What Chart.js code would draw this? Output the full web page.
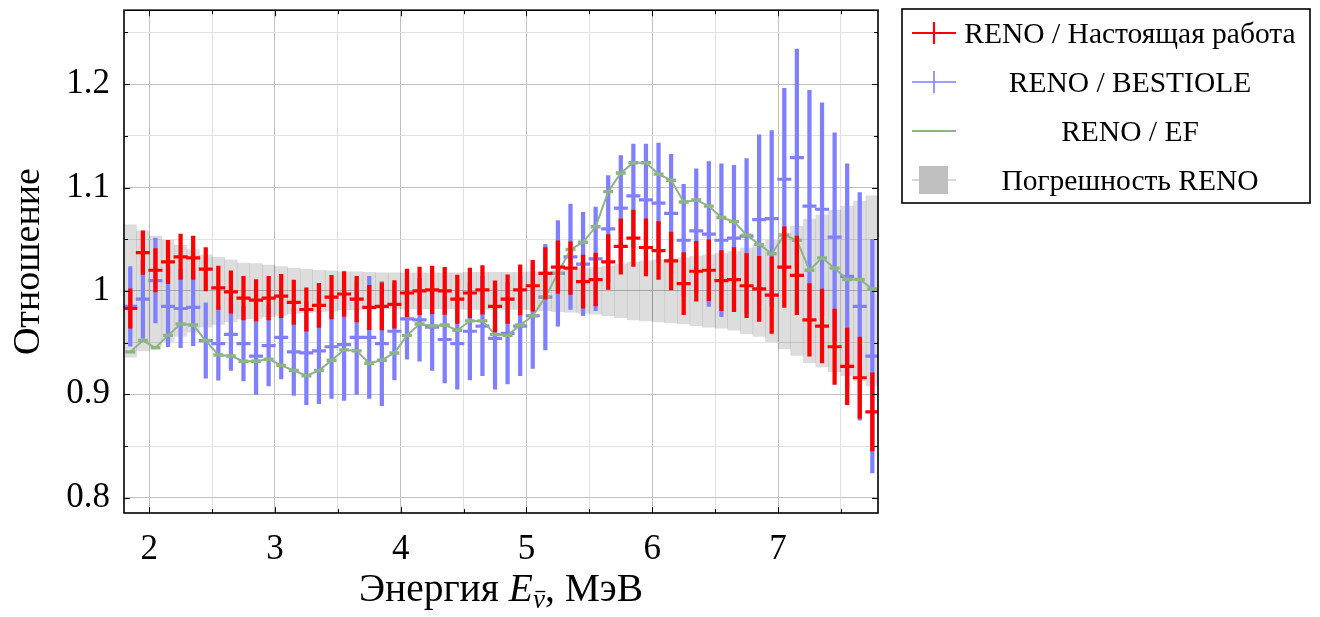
<!DOCTYPE html>
<html><head><meta charset="utf-8">
<script src="https://cdn.jsdelivr.net/npm/chart.js@4.4.1/dist/chart.umd.min.js"></script>
<style>html,body{margin:0;padding:0;background:#fff;}canvas{display:block;}</style>
</head><body>
<canvas id="c" width="1320" height="617"></canvas>
<script>
// ---------- data ----------
const energy = [1.85,1.95,2.05,2.15,2.25,2.35,2.45,2.55,2.65,2.75,2.85,2.95,3.05,3.15,3.25,3.35,3.45,3.55,3.65,3.75,3.85,3.95,4.05,4.15,4.25,4.35,4.45,4.55,4.65,4.75,4.85,4.95,5.05,5.15,5.25,5.35,5.45,5.55,5.65,5.75,5.85,5.95,6.05,6.15,6.25,6.35,6.45,6.55,6.65,6.75,6.85,6.95,7.05,7.15,7.25,7.35,7.45,7.55,7.65,7.75];

const renoRatio = [0.983,1.037,1.020,1.028,1.033,1.032,1.021,1.003,0.999,0.993,
  0.991,0.993,0.995,0.989,0.982,0.986,0.994,0.997,0.992,0.984,
  0.985,0.987,0.998,1.000,1.001,1.000,0.992,0.998,1.001,0.985,
  0.992,1.001,1.005,1.017,1.023,1.022,1.009,1.011,1.028,1.043,
  1.051,1.042,1.039,1.029,1.007,1.019,1.020,1.010,1.011,1.005,
  1.002,0.996,1.023,1.015,0.972,0.966,0.946,0.927,0.916,0.883];
const renoErr = [0.019,0.021,0.021,0.021,0.022,0.021,0.021,0.021,0.0205,0.021,
  0.020,0.021,0.021,0.0214,0.021,0.0214,0.021,0.0216,0.022,0.0214,
  0.0227,0.023,0.023,0.023,0.023,0.0227,0.0234,0.024,0.0234,0.0247,
  0.0235,0.0243,0.0245,0.025,0.0255,0.0255,0.0256,0.0256,0.0265,0.0268,
  0.0273,0.0276,0.028,0.028,0.030,0.029,0.0295,0.029,0.031,0.031,
  0.0315,0.037,0.039,0.038,0.035,0.0357,0.0365,0.037,0.0394,0.0378];

const bestioleRatio = [0.985,0.992,1.010,0.985,0.983,0.984,0.952,0.949,0.958,0.949,
  0.937,0.947,0.955,0.941,0.940,0.942,0.946,0.948,0.955,0.955,
  0.949,0.961,0.973,0.972,0.965,0.953,0.949,0.961,0.966,0.954,
  0.959,0.966,0.976,0.994,1.017,1.033,1.026,1.031,1.060,1.080,
  1.092,1.088,1.085,1.075,1.049,1.058,1.055,1.049,1.051,1.053,
  1.069,1.070,1.108,1.129,1.082,1.079,1.052,1.014,0.985,0.937];
const bestioleErr = [0.0385,0.038,0.041,0.039,0.038,0.037,0.0365,0.0354,0.035,0.036,
  0.037,0.039,0.040,0.042,0.050,0.051,0.050,0.054,0.055,0.059,
  0.060,0.047,0.039,0.040,0.042,0.042,0.044,0.047,0.048,0.049,
  0.049,0.048,0.051,0.051,0.051,0.051,0.050,0.050,0.0515,0.051,
  0.050,0.054,0.058,0.057,0.054,0.060,0.070,0.074,0.0705,0.075,
  0.082,0.085,0.088,0.105,0.112,0.103,0.101,0.109,0.110,0.113];

const efRatio = [0.941,0.952,0.945,0.957,0.968,0.967,0.952,0.938,0.937,0.932,
  0.932,0.934,0.928,0.923,0.918,0.923,0.933,0.943,0.942,0.930,
  0.933,0.940,0.957,0.968,0.966,0.967,0.962,0.971,0.971,0.958,
  0.957,0.967,0.976,0.994,1.017,1.040,1.047,1.062,1.096,1.114,
  1.124,1.124,1.113,1.107,1.086,1.088,1.082,1.071,1.067,1.054,
  1.045,1.036,1.054,1.049,1.020,1.032,1.022,1.011,1.011,1.002];

const renoUncert = [0.064,0.058,0.053,0.049,0.044,0.040,0.035,0.0325,0.030,0.027,
  0.0265,0.025,0.0235,0.022,0.021,0.020,0.0195,0.0185,0.0185,0.018,
  0.0175,0.0175,0.0175,0.0175,0.0175,0.0175,0.0175,0.018,0.018,0.018,
  0.018,0.018,0.0185,0.019,0.020,0.0205,0.0215,0.0225,0.024,0.026,
  0.028,0.029,0.030,0.031,0.032,0.0336,0.035,0.036,0.038,0.0415,
  0.044,0.049,0.056,0.0625,0.0695,0.0735,0.078,0.082,0.087,0.092];

const seriesNames = ['RENO / Настоящая работа','RENO / BESTIOLE','RENO / EF','Погрешность RENO'];
const xMajorTicks = [2,3,4,5,6,7];
const xMinorTicks = [2.5,3.5,4.5,5.5,6.5,7.5];
const yMajorTicks = [0.8,0.9,1,1.1,1.2];
const yTickLabels = ['0.8','0.9','1','1.1','1.2'];
const yMinorTicks = [0.85,0.95,1.05,1.15,1.25];
const yTitle = 'Отношение';
const xTitleParts = ['Энергия ', 'E', 'ν', ', МэВ'];

// ---------- style ----------
const RED = '#ff0000', BLUE = 'rgb(128,128,255)', GREEN = 'rgb(140,180,132)';
const BAND = 'rgba(0,0,0,0.135)';
const FONT = '"Liberation Serif", "DejaVu Serif", serif';
const MAJOR_GRID = 'rgb(192,192,192)', MINOR_GRID = 'rgb(226,226,226)';

const isIn = (arr, v) => arr.some(a => Math.abs(a - v) < 1e-6);
const pts = (vals) => energy.map((x, i) => ({x, y: vals[i]}));
const bars = (vals, errs) => energy.map((x, i) => ({x, y: [vals[i] - errs[i], vals[i] + errs[i]]}));
const bandData = energy.map((x, i) => ({x, y: [1 - renoUncert[i], 1 + renoUncert[i]]}));

const frame = {
  id: 'frame',
  afterDatasetsDraw(chart) {
    const {ctx, chartArea: a, scales: {x, y}} = chart;
    ctx.save();
    ctx.strokeStyle = '#000'; ctx.lineWidth = 1;
    for (const v of [...yMajorTicks, ...yMinorTicks]) {
      const py = Math.round(y.getPixelForValue(v)) + 0.5;
      if (py < a.top || py > a.bottom) continue;
      const len = isIn(yMajorTicks, v) ? 6 : 4;
      ctx.beginPath(); ctx.moveTo(a.left, py); ctx.lineTo(a.left + len, py);
      ctx.moveTo(a.right, py); ctx.lineTo(a.right - len, py); ctx.stroke();
    }
    for (const v of [...xMajorTicks, ...xMinorTicks]) {
      const px = Math.round(x.getPixelForValue(v)) + 0.5;
      const len = isIn(xMajorTicks, v) ? 6 : 4;
      ctx.beginPath(); ctx.moveTo(px, a.bottom); ctx.lineTo(px, a.bottom - len);
      ctx.moveTo(px, a.top); ctx.lineTo(px, a.top + len); ctx.stroke();
    }
    ctx.lineWidth = 1.6;
    ctx.strokeRect(a.left, a.top, a.right - a.left, a.bottom - a.top);
    ctx.restore();
  },
  afterDraw(chart) {
    const {ctx, chartArea: a} = chart;
    ctx.save();
    // x-axis title with italic E and subscript nu-bar
    const parts = [
      {t: xTitleParts[0], f: '39.5px ' + FONT, dy: 0},
      {t: xTitleParts[1], f: 'italic 39.5px ' + FONT, dy: 0},
      {t: xTitleParts[2], f: 'italic 27px ' + FONT, dy: 7, bar: true},
      {t: xTitleParts[3], f: '39.5px ' + FONT, dy: 0}
    ];
    let w = 0;
    for (const p of parts) { ctx.font = p.f; p.w = ctx.measureText(p.t).width; w += p.w; }
    let cx = (a.left + a.right) / 2 - w / 2;
    const base = 601;
    ctx.fillStyle = '#000'; ctx.strokeStyle = '#000'; ctx.textBaseline = 'alphabetic'; ctx.textAlign = 'left';
    for (const p of parts) {
      ctx.font = p.f; ctx.fillText(p.t, cx, base + p.dy);
      if (p.bar) {
        ctx.lineWidth = 1.3;
        ctx.beginPath(); ctx.moveTo(cx + 2.5, base + p.dy - 16.5); ctx.lineTo(cx + p.w + 0.5, base + p.dy - 16.5); ctx.stroke();
      }
      cx += p.w;
    }

    // legend
    const L = 902, T = 9, W = 408, H = 194;
    ctx.fillStyle = '#fff'; ctx.fillRect(L, T, W, H);
    ctx.strokeStyle = '#000'; ctx.lineWidth = 1.6; ctx.strokeRect(L, T, W, H);
    const rows = [33, 82, 131, 180];
    const x0 = 912, x1 = 956, xc = 934;
    ctx.lineCap = 'butt';
    ctx.strokeStyle = RED; ctx.lineWidth = 2.2;
    ctx.beginPath(); ctx.moveTo(x0, rows[0]); ctx.lineTo(x1, rows[0]);
    ctx.moveTo(xc, rows[0] - 11); ctx.lineTo(xc, rows[0] + 11); ctx.stroke();
    ctx.strokeStyle = BLUE; ctx.lineWidth = 1.6;
    ctx.beginPath(); ctx.moveTo(x0, rows[1]); ctx.lineTo(x1, rows[1]);
    ctx.moveTo(xc, rows[1] - 11); ctx.lineTo(xc, rows[1] + 11); ctx.stroke();
    ctx.strokeStyle = GREEN; ctx.lineWidth = 2;
    ctx.beginPath(); ctx.moveTo(x0, rows[2]); ctx.lineTo(x1, rows[2]); ctx.stroke();
    ctx.strokeStyle = 'rgb(200,200,200)'; ctx.lineWidth = 1.5;
    ctx.beginPath(); ctx.moveTo(x0, rows[3]); ctx.lineTo(x1, rows[3]); ctx.stroke();
    ctx.fillStyle = 'rgb(192,192,192)'; ctx.fillRect(919, rows[3] - 14, 29, 28);
    ctx.fillStyle = '#000'; ctx.font = '29.5px ' + FONT; ctx.textAlign = 'center';
    seriesNames.forEach((n, i) => ctx.fillText(n, 1130, rows[i] + 9.5));
    ctx.restore();
  }
};

const gridColor = (major) => (c) => (c.tick && isIn(major, c.tick.value)) ? MAJOR_GRID : MINOR_GRID;

new Chart(document.getElementById('c'), {
  type: 'bar',
  data: {
    datasets: [
      {type: 'line', label: seriesNames[0], data: pts(renoRatio), showLine: false,
       pointStyle: 'line', pointRadius: 7, pointBorderWidth: 3.2, borderColor: RED, backgroundColor: RED, order: 0},
      {type: 'bar', label: seriesNames[0] + ' err', data: bars(renoRatio, renoErr), backgroundColor: RED,
       barThickness: 3.6, grouped: false, order: 1},
      {type: 'line', label: seriesNames[2], data: pts(efRatio), borderColor: GREEN, borderWidth: 2,
       pointStyle: 'line', pointRadius: 5, pointBorderWidth: 3.4, pointBorderColor: GREEN, backgroundColor: GREEN,
       tension: 0, order: 2},
      {type: 'line', label: seriesNames[1], data: pts(bestioleRatio), showLine: false,
       pointStyle: 'line', pointRadius: 7, pointBorderWidth: 3.2, borderColor: BLUE, backgroundColor: BLUE, order: 3},
      {type: 'bar', label: seriesNames[1] + ' err', data: bars(bestioleRatio, bestioleErr), backgroundColor: BLUE,
       barThickness: 3.6, grouped: false, order: 4},
      {type: 'bar', label: seriesNames[3], data: bandData, backgroundColor: BAND,
       barPercentage: 1, categoryPercentage: 1, grouped: false, order: 5}
    ]
  },
  options: {
    responsive: false, animation: false, events: [], devicePixelRatio: 1,
    layout: {padding: {left: 0, top: 10, right: 442, bottom: 0}},
    plugins: {legend: {display: false}, tooltip: {enabled: false}},
    scales: {
      x: {
        type: 'linear', min: 1.8, max: 7.795, offset: false,
        afterBuildTicks: (s) => { s.ticks = [...xMajorTicks, ...xMinorTicks].sort((a, b) => a - b).map(v => ({value: v})); },
        afterFit: (s) => { s.height = 104; s.paddingLeft = 0; s.paddingRight = 0; },
        ticks: {autoSkip: false, maxRotation: 0, padding: 16, color: '#000', font: {family: FONT, size: 35},
          callback: (v) => isIn(xMajorTicks, v) ? String(v) : ''},
        grid: {color: gridColor(xMajorTicks), lineWidth: 1, drawTicks: false, offset: false},
        border: {display: false}
      },
      y: {
        type: 'linear', min: 0.7852, max: 1.2715,
        afterBuildTicks: (s) => { s.ticks = [...yMajorTicks, ...yMinorTicks].sort((a, b) => a - b).map(v => ({value: v})); },
        afterFit: (s) => { s.width = 124; s.paddingTop = 0; s.paddingBottom = 0; },
        ticks: {autoSkip: false, padding: 14, color: '#000', font: {family: FONT, size: 35},
          callback: (v) => { const i = yMajorTicks.findIndex(m => Math.abs(m - v) < 1e-6); return i >= 0 ? yTickLabels[i] : ''; }},
        grid: {color: gridColor(yMajorTicks), lineWidth: 1, drawTicks: false},
        border: {display: false},
        title: {display: true, text: yTitle, color: '#000', font: {family: FONT, size: 38}, padding: {top: 6, bottom: 0}}
      }
    }
  },
  plugins: [frame]
});
</script>
</body></html>
